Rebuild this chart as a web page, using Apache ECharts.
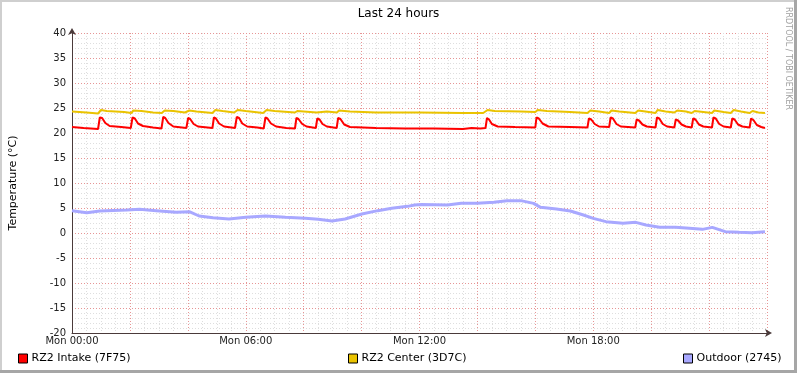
<!DOCTYPE html>
<html>
<head>
<meta charset="utf-8">
<script src="https://cdn.jsdelivr.net/npm/echarts@6/dist/echarts.min.js"></script>
<style>
  html, body { margin: 0; padding: 0; background: #fff; }
  #chart { width: 797px; height: 373px; }
</style>
</head>
<body>
<div id="chart"></div>
<script>
// hours since Mon 00:00, temperature in °C
const intake = [
  [0, 21.2], [0.4, 21.0], [0.9, 20.8],
  [0.96, 23.1], [1.04, 23.0], [1.15, 22.0], [1.3, 21.4], [1.7, 21.2], [2.03, 21.0],
  [2.09, 23.1], [2.17, 22.9], [2.28, 21.9], [2.45, 21.4], [2.8, 21.1], [3.09, 20.9],
  [3.15, 23.2], [3.22, 23.0], [3.33, 22.0], [3.5, 21.3], [3.95, 21.0],
  [4.01, 23.0], [4.08, 22.8], [4.2, 21.8], [4.35, 21.3], [4.85, 21.0],
  [4.9, 23.1], [4.97, 22.9], [5.08, 21.9], [5.25, 21.3], [5.63, 21.0],
  [5.69, 23.2], [5.77, 23.0], [5.88, 21.9], [6.05, 21.3], [6.4, 21.1], [6.62, 20.9],
  [6.68, 23.1], [6.75, 22.9], [6.87, 21.9], [7.05, 21.3], [7.4, 21.0], [7.7, 20.9],
  [7.75, 23.0], [7.82, 22.8], [7.95, 21.8], [8.1, 21.3], [8.42, 21.0],
  [8.47, 22.9], [8.55, 22.7], [8.65, 21.8], [8.8, 21.3], [9.14, 21.0],
  [9.19, 23.0], [9.27, 22.8], [9.4, 21.7], [9.6, 21.2], [10.5, 21.0], [11.5, 20.9],
  [12.5, 20.9], [13.5, 20.8], [13.8, 21.0], [14.1, 20.9], [14.28, 21.0],
  [14.33, 23.0], [14.4, 22.7], [14.5, 21.8], [14.7, 21.3], [15.3, 21.2], [16.0, 21.1],
  [16.04, 23.1], [16.12, 22.9], [16.25, 21.9], [16.45, 21.3], [17.2, 21.2], [17.8, 21.1],
  [17.85, 22.9], [17.93, 22.7], [18.05, 21.8], [18.2, 21.3], [18.55, 21.2],
  [18.6, 23.1], [18.68, 22.9], [18.8, 21.8], [18.95, 21.3], [19.45, 21.1],
  [19.5, 22.7], [19.58, 22.5], [19.7, 21.7], [19.85, 21.3], [20.15, 21.1],
  [20.2, 23.1], [20.28, 22.9], [20.4, 21.8], [20.55, 21.3], [20.8, 21.1],
  [20.85, 22.7], [20.93, 22.5], [21.05, 21.7], [21.2, 21.3], [21.4, 21.1],
  [21.45, 22.9], [21.53, 22.7], [21.65, 21.7], [21.8, 21.3], [22.1, 21.1],
  [22.15, 23.1], [22.23, 22.9], [22.35, 21.8], [22.5, 21.3], [22.75, 21.1],
  [22.8, 22.9], [22.88, 22.7], [23.0, 21.7], [23.15, 21.3], [23.4, 21.1],
  [23.45, 22.9], [23.53, 22.6], [23.65, 21.6], [23.8, 21.2], [23.93, 21.0]
];

const center = [
  [0, 24.3], [0.5, 24.1], [0.9, 23.9], [1.0, 24.6], [1.2, 24.4], [1.8, 24.2], [2.05, 24.0],
  [2.12, 24.5], [2.4, 24.4], [2.8, 24.1], [3.1, 24.0], [3.2, 24.5], [3.5, 24.4], [3.9, 24.1],
  [4.05, 24.5], [4.3, 24.3], [4.85, 24.0], [4.95, 24.6], [5.2, 24.4], [5.6, 24.1],
  [5.72, 24.6], [6.0, 24.4], [6.6, 24.0], [6.72, 24.6], [7.0, 24.4], [7.7, 24.1],
  [7.78, 24.4], [8.0, 24.3], [8.45, 24.1], [8.5, 24.4], [8.8, 24.3], [9.15, 24.1],
  [9.22, 24.5], [9.6, 24.3], [10.5, 24.1], [12, 24.1], [13.5, 24.0], [14.2, 24.0],
  [14.35, 24.6], [14.6, 24.4], [15.5, 24.3], [16.0, 24.2], [16.08, 24.6], [16.4, 24.4],
  [17.2, 24.2], [17.8, 24.0], [17.9, 24.5], [18.2, 24.3], [18.55, 24.0], [18.63, 24.5],
  [18.9, 24.3], [19.45, 24.0], [19.55, 24.5], [19.8, 24.3], [20.15, 24.0], [20.22, 24.6],
  [20.5, 24.3], [20.8, 24.1], [20.9, 24.5], [21.2, 24.3], [21.4, 24.0], [21.5, 24.4],
  [21.8, 24.2], [22.1, 24.0], [22.18, 24.5], [22.5, 24.2], [22.75, 24.0], [22.85, 24.6],
  [23.1, 24.3], [23.4, 24.0], [23.5, 24.4], [23.7, 24.1], [23.93, 24.0]
];

const outdoor = [
  [0, 4.47], [0.51, 4.07], [0.96, 4.4], [1.89, 4.6], [2.33, 4.73], [2.91, 4.47],
  [3.6, 4.13], [4.05, 4.27], [4.39, 3.4], [4.87, 3.07], [5.42, 2.8], [6.0, 3.13],
  [6.68, 3.4], [7.37, 3.13], [8.06, 2.93], [8.5, 2.73], [8.98, 2.4], [9.43, 2.8],
  [10.01, 3.8], [10.56, 4.47], [11.04, 4.93], [11.59, 5.33], [11.83, 5.6], [12.07, 5.7],
  [12.96, 5.6], [13.44, 5.93], [13.99, 5.93], [14.57, 6.13], [15.02, 6.47], [15.5, 6.47],
  [15.94, 5.93], [16.18, 5.13], [16.73, 4.8], [17.21, 4.4], [17.66, 3.6], [18.0, 2.93],
  [18.44, 2.27], [19.03, 1.93], [19.47, 2.13], [19.82, 1.6], [20.29, 1.13], [20.84, 1.13],
  [21.32, 0.93], [21.77, 0.73], [22.11, 1.13], [22.56, 0.27], [23.04, 0.13], [23.48, 0.07],
  [23.93, 0.27]
];

const seriesNames = ['RZ2 Intake (7F75)', 'RZ2 Center (3D7C)', 'Outdoor (2745)'];
const xTickLabels = ['Mon 00:00', 'Mon 06:00', 'Mon 12:00', 'Mon 18:00'];

const font = 'DejaVu Sans';
const minorGrid = { show: true, lineStyle: { color: '#dedede', type: [1, 2], width: 1 } };
const majorGrid = { show: true, lineStyle: { color: '#e79595', type: [1, 2], width: 1 } };
const axisColor = '#4a3a3a';

const myChart = echarts.init(document.getElementById('chart'))

function makeLegend(name, left) {
  return {
    data: [name],
    left: left,
    top: 348,
    icon: 'rect',
    itemWidth: 9,
    itemHeight: 9,
    itemStyle: { borderColor: '#000', borderWidth: 1 },
    textStyle: { fontFamily: font, fontSize: 11, color: '#000', padding: [0, 0, 0, -1] },
    selectedMode: false
  }
}

const option = {
  animation: false,
  backgroundColor: '#fff',
  title: {
    text: 'Last 24 hours',
    left: 'center',
    top: 3,
    textStyle: { fontFamily: font, fontSize: 12, fontWeight: 'normal', color: '#000' }
  },
  legend: [
    makeLegend(seriesNames[0], 13),
    makeLegend(seriesNames[1], 343),
    makeLegend(seriesNames[2], 678)
  ],
  grid: { left: 67, top: 33, width: 700, height: 300 },
  xAxis: {
    type: 'value',
    min: 0,
    max: 24,
    interval: 2,
    axisLine: {
      onZero: false,
      lineStyle: { color: axisColor, width: 1 },
      symbol: ['none', 'arrow'],
      symbolSize: [6, 7],
      symbolOffset: [0, 5]
    },
    axisTick: { show: false },
    minorTick: { show: false, splitNumber: 4 },
    splitLine: majorGrid,
    minorSplitLine: minorGrid,
    axisLabel: {
      fontFamily: font,
      fontSize: 10,
      color: '#222',
      margin: 3,
      formatter: function (v) {
        return (v % 6 === 0 && v < 24) ? xTickLabels[v / 6] : ''
      }
    }
  },
  yAxis: {
    type: 'value',
    min: -20,
    max: 40,
    interval: 5,
    name: 'Temperature (°C)',
    nameLocation: 'middle',
    nameGap: 53,
    nameTextStyle: { fontFamily: font, fontSize: 11, color: '#000' },
    axisLine: {
      show: true,
      lineStyle: { color: axisColor, width: 1 },
      symbol: ['none', 'arrow'],
      symbolSize: [6, 7],
      symbolOffset: [0, 5]
    },
    axisTick: { show: false },
    minorTick: { show: false, splitNumber: 5 },
    splitLine: majorGrid,
    minorSplitLine: minorGrid,
    axisLabel: { fontFamily: font, fontSize: 10, color: '#222', margin: 6 }
  },
  graphic: [
    { type: 'rect', shape: { x: 0, y: 0, width: 797, height: 2 }, style: { fill: '#cfcfcf' }, silent: true },
    { type: 'rect', shape: { x: 0, y: 0, width: 2, height: 373 }, style: { fill: '#cfcfcf' }, silent: true },
    { type: 'rect', shape: { x: 794, y: 0, width: 3, height: 373 }, style: { fill: '#a6a6a6' }, silent: true },
    { type: 'rect', shape: { x: 0, y: 370, width: 797, height: 3 }, style: { fill: '#a6a6a6' }, silent: true },
    {
      type: 'text',
      x: 788,
      y: 7,
      rotation: -Math.PI / 2,
      silent: true,
      z: 10,
      style: { text: 'RRDTOOL / TOBI OETIKER', fill: '#a0a0a0', font: '8px DejaVu Sans', align: 'left', verticalAlign: 'middle' }
    }
  ],
  series: [
    {
      name: seriesNames[0],
      type: 'line',
      data: intake,
      showSymbol: false,
      color: '#ff0000',
      lineStyle: { width: 2, color: '#ff0000' },
      z: 4
    },
    {
      name: seriesNames[1],
      type: 'line',
      data: center,
      showSymbol: false,
      color: '#eac300',
      lineStyle: { width: 2, color: '#eac300' },
      z: 3
    },
    {
      name: seriesNames[2],
      type: 'line',
      data: outdoor,
      showSymbol: false,
      color: '#a8a8ff',
      lineStyle: { width: 3, color: '#a8a8ff' },
      z: 2
    }
  ]
}
myChart.setOption(option)
</script>
</body>
</html>
